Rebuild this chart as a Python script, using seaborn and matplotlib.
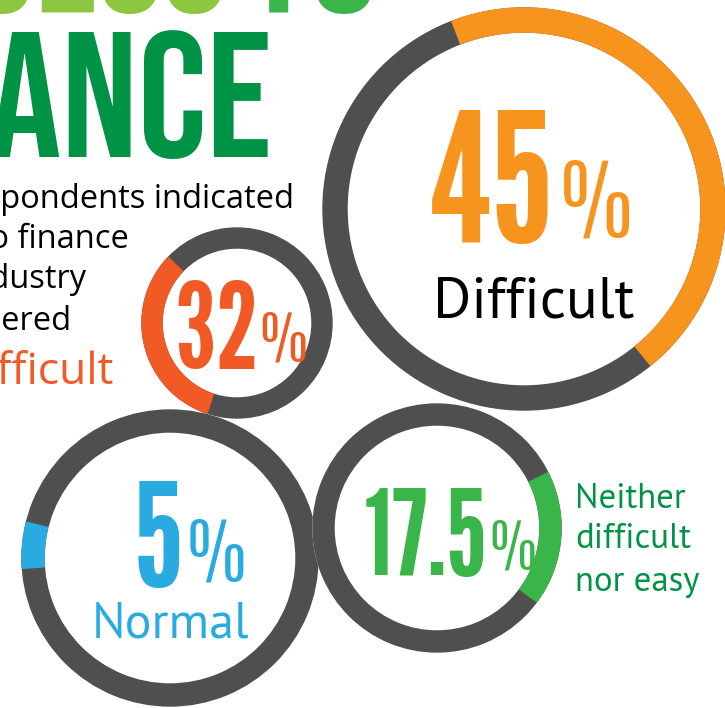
import matplotlib
matplotlib.use("Agg")
import matplotlib.pyplot as plt
import seaborn as sns
from matplotlib.patches import Wedge, Circle

# survey answers shown as rings
categories = ["Difficult", "Very difficult", "Normal", "Neither difficult nor easy"]
values = [45, 32, 5, 17.5]
value_text = ["45", "32", "5", "17.5"]
ring_colors = ["#F7941E", "#F15A24", "#29ABE2", "#3AB54A"]

# text blocks
title_top = ["ACCESS", "TO"]
title_main = "FINANCE"
para_lines = ["respondents indicated", "access to finance", "in the industry", "considered"]
para_last = "difficult"
neither_lines = ["Neither", "difficult", "nor easy"]

sns.set_theme(style="white")
plt.rcParams["font.family"] = ["PT Sans", "DejaVu Sans"]

GREY = "#4F4F4F"
BIG = ["Bebas Neue", "DejaVu Sans"]
NUM = ["League Gothic", "Bebas Neue", "DejaVu Sans"]
THIN = ["Pathway Gothic One", "DejaVu Sans"]
BODY = ["Open Sans", "DejaVu Sans"]

fig = plt.figure(figsize=(7.25, 7.08), dpi=100)
ax = fig.add_axes([0, 0, 1, 1])
ax.set_xlim(0, 725)
ax.set_ylim(708, 0)
ax.set_aspect("equal")
ax.axis("off")

# ring layout (centre x, centre y, radius, ring width, arc middle clockwise from top)
rings = [
    (524, 209, 201, 24, 60),
    (237, 323, 95, 20, 256),
    (170, 558, 148, 22, 275),
    (437, 528, 124, 21, 95),
]


def draw_ring(cx, cy, r, w, mid, pct, color, z):
    ax.add_patch(Circle((cx, cy), r, color="white", zorder=z))
    ax.add_patch(Wedge((cx, cy), r, 0, 360, width=w, color=GREY, zorder=z + 0.1))
    span = pct / 100 * 360
    t1 = mid - span / 2 - 90
    ax.add_patch(Wedge((cx, cy), r, t1, t1 + span, width=w, color=color, zorder=z + 0.2))


for i, (ring, v, c) in enumerate(zip(rings, values, ring_colors)):
    draw_ring(*ring, v, c, z=2 + i)

# title pieces cut by the crop
ax.text(272, 157, title_main, ha="right", va="baseline", fontsize=129,
        family=BIG, color="#009245", zorder=1)
ax.text(228, 12, title_top[0], ha="right", va="baseline", fontsize=125,
        family=BIG, color="#8DC63F", zorder=1)
ax.text(380, 12, title_top[1], ha="right", va="baseline", fontsize=125,
        family=BIG, color="#39B54A", zorder=1)

# paragraph
para_ends = [294, 129, 86, 71]
para_base = [208, 248, 288, 330]
for s, xe, yb in zip(para_lines, para_ends, para_base):
    ax.text(xe, yb, s, ha="right", va="baseline", fontsize=23.5, family=BODY,
            color="black", zorder=1)
ax.text(114, 384, para_last, ha="right", va="baseline", fontsize=32, family=BODY,
        color="#F15A24", zorder=1)

# big numbers: (right edge, baseline, digit size, % left, % size)
num_pos = [(554, 242, 130, 560, 76), (259, 367, 85, 259, 50),
           (183, 587, 104, 187, 62), (487, 575, 85, 489, 49)]
for (xe, yb, fs, px, ps), t, c in zip(num_pos, value_text, ring_colors):
    ax.text(xe, yb, t, ha="right", va="baseline", fontsize=fs,
            family=NUM, color=c, zorder=10)
    ax.text(px, yb - 6, "%", ha="left", va="baseline", fontsize=ps,
            family=THIN, color=c, zorder=10)

ax.text(534, 317, categories[0], ha="center", va="baseline", fontsize=42, color="black", zorder=10)
ax.text(171, 638, categories[2], ha="center", va="baseline", fontsize=36, color="#29ABE2", zorder=10)
for s, yb in zip(neither_lines, [508, 548, 591]):
    ax.text(575, yb, s, ha="left", va="baseline", fontsize=25, color="#009245", zorder=10)

fig.savefig("out.png", dpi=100)
